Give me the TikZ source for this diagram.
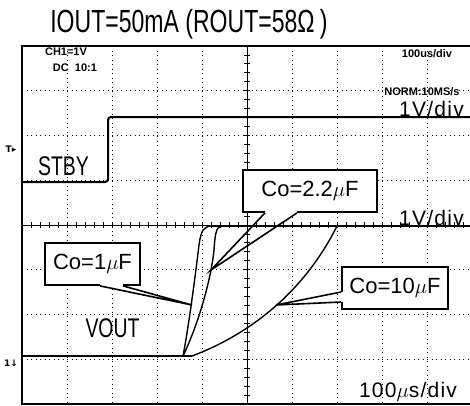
\documentclass[tikz,border=0pt]{standalone}
\usepackage{fontspec}
\setmainfont{Liberation Sans}
\newfontfamily\narrowfont[FakeStretch=0.72]{Liberation Sans}
\newfontfamily\spacedfont[LetterSpace=6]{Liberation Sans}
\newfontfamily\symfont{DejaVu Sans}
\usetikzlibrary{calc}
\tikzstyle{frame}=[line width=1.4pt]
\tikzstyle{grid}=[line width=0.9pt, dash pattern=on 1pt off 3.5pt]
\tikzstyle{axis}=[line width=0.9pt]
\tikzstyle{trace}=[line width=2.6pt, line join=round]
\tikzstyle{curve}=[line width=1.4pt]
\tikzstyle{cobox}=[
  draw,
  line width=1.8pt,
  fill=white,
  minimum height=42pt,
  font={\fontsize{22}{22}\selectfont}
]
\tikzstyle{wedge}=[line width=1.6pt, line join=miter]
\tikzstyle{scopetext}=[font={\bfseries\fontsize{11}{11}\selectfont}, inner sep=0pt]
\tikzstyle{biglabel}=[font={\narrowfont\fontsize{27}{27}\selectfont}, inner sep=0pt]
\tikzstyle{divlabel}=[font={\spacedfont\fontsize{21}{21}\selectfont}, inner sep=0pt]
\tikzstyle{marker}=[font={\symfont\bfseries\fontsize{9}{9}\selectfont}, inner sep=0pt]

\begin{document}
\begin{tikzpicture}[x=1pt, y=-1pt]

\useasboundingbox (0,0) rectangle (470,405);

\newcommand\LX{22}
\newcommand\RX{475}
\newcommand\TY{46}
\newcommand\BY{404}
\newcommand\DX{45}
\newcommand\DY{44.75}

%% grid
\foreach \i in {1,2,3,4,6,7,8,9}
  \draw[grid] (\LX+\i*\DX, \TY) -- (\LX+\i*\DX, \BY);
\foreach \j in {1,2,3,5,6,7}
  \draw[grid] (\LX, \TY+\j*\DY) -- (\RX, \TY+\j*\DY);

%% centre lines
\draw[axis] (\LX+5*\DX, \TY) -- (\LX+5*\DX, \BY);
\draw[axis] (\LX, \TY+4*\DY) -- (\RX, \TY+4*\DY);
\foreach \t in {1,...,39}
  \draw[axis] (\LX+5*\DX-3, \TY+\t*\DY/5) -- (\LX+5*\DX+3, \TY+\t*\DY/5);
\foreach \t in {1,...,49}
  \draw[axis] (\LX+\t*\DX/5, \TY+4*\DY-3) -- (\LX+\t*\DX/5, \TY+4*\DY+3);

\draw[frame] (\LX, \TY) rectangle (\RX, \BY);

%% STBY
\draw[trace, line width=2pt, rounded corners=3pt] (\LX, 182) -- (108, 182) -- (108, 117) -- (\RX, 117);

%% VOUT
\draw[trace] (\LX, 356) -- (192, 356);
\draw[trace] (210, 226) -- (\RX, 226);
\draw[curve] (183, 356) .. controls (189, 325) and (196, 270) .. (199, 245)
  .. controls (201, 230) and (204, 226) .. (212, 226);
\draw[curve] (183, 356) .. controls (198, 325) and (211, 280) .. (214, 250)
  .. controls (215, 235) and (216, 226) .. (222, 226);
\draw[curve] (192, 356) .. controls (240, 338) and (300, 300) .. (337, 226);

%% callouts
\node[cobox, minimum width=95pt] (co1) at (92.5, 264) {Co=1$\mu$F};
\coordinate (co1tip) at (192, 305);
\fill[white] ($(co1.south)+(7.5,-1.5)$) rectangle ($(co1.south)+(30.5,1.5)$);
\draw[wedge] ($(co1.south)+(7.5,0)$) -- (co1tip) -- ($(co1.south)+(30.5,0)$);

\node[cobox, minimum width=134pt] (co2) at (310, 191) {Co=2.2$\mu$F};
\coordinate (co2tip) at (211, 270);
\fill[white] ($(co2.south)+(-45,-1.5)$) rectangle ($(co2.south)+(-13,1.5)$);
\draw[wedge] ($(co2.south)+(-45,0)$) -- (co2tip) -- ($(co2.south)+(-13,0)$);

\node[cobox, minimum width=106pt] (co3) at (395, 288) {Co=10$\mu$F};
\coordinate (co3tip) at (276, 305);
\fill[white] ($(co3.west)+(-1.5,4)$) rectangle ($(co3.west)+(1.5,14)$);
\draw[wedge] ($(co3.west)+(0,4)$) -- (co3tip) -- ($(co3.west)+(0,14)$);

%% texts
\node[biglabel, anchor=base, font={\narrowfont\fontsize{32}{32}\selectfont}] (title) at (189, 32) {IOUT=50mA\ (ROUT=58Ω\,)};
\node[scopetext, anchor=base] (ch) at (66, 55) {CH1=1V};
\node[scopetext, anchor=base] (dc) at (75, 71) {DC\ \ 10:1};
\node[scopetext, anchor=base] (tdiv) at (427, 57) {100us/div};
\node[scopetext, anchor=base] (norm) at (422, 95) {NORM:10MS/s};
\node[biglabel, anchor=base] (stby) at (63.5, 175) {STBY};
\node[biglabel, anchor=base] (vout) at (112.5, 337) {VOUT};
\node[divlabel, anchor=base] (div1) at (431.5, 116) {1V/div};
\node[divlabel, anchor=base] (div2) at (431.5, 225) {1V/div};
\node[divlabel, anchor=base] (tbase) at (408, 397) {100$\mu$s/div};
\node[marker] (trig) at (11, 149) {T▸};
\node[marker] (gnd) at (11, 363) {1↓};

\end{tikzpicture}
\end{document}
